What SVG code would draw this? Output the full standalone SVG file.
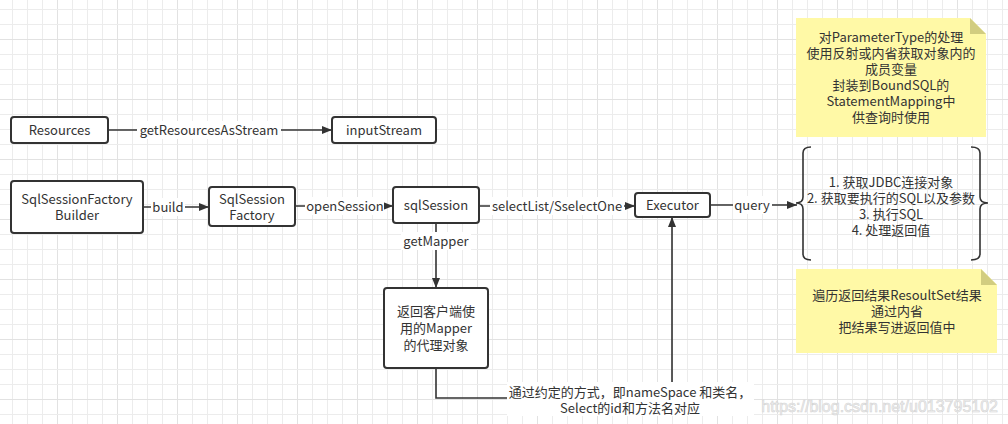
<svg xmlns="http://www.w3.org/2000/svg" width="1008" height="424" viewBox="0 0 1008 424">
<defs>
<pattern id="grid" x="12" y="9" width="60" height="60" patternUnits="userSpaceOnUse">
<rect x="0" y="0" width="1" height="60" fill="#ececec"/>
<rect x="15" y="0" width="1" height="60" fill="#ececec"/>
<rect x="30" y="0" width="1" height="60" fill="#ececec"/>
<rect x="45" y="0" width="1" height="60" fill="#e2e2e2"/>
<rect x="0" y="0" width="60" height="1" fill="#ececec"/>
<rect x="0" y="15" width="60" height="1" fill="#ececec"/>
<rect x="0" y="30" width="60" height="1" fill="#e2e2e2"/>
<rect x="0" y="45" width="60" height="1" fill="#ececec"/>
</pattern>
<marker id="arr" viewBox="0 0 10 10" refX="10" refY="5" markerWidth="10" markerHeight="10" markerUnits="userSpaceOnUse" orient="auto">
<path d="M0,1 L10,5 L0,9 Z" fill="#333"/>
</marker>
<style>
.box{fill:#fff;stroke:#333;stroke-width:2}
.t{font-family:"Noto Sans CJK SC","Noto Sans",sans-serif;font-size:13px;fill:#333;text-anchor:middle}
.line{fill:none;stroke:#333;stroke-width:1.6}
.lbl{fill:#fff}
.note{fill:#fff9a6}
.fold{fill:#d2cd80}
</style>
</defs>
<rect width="1008" height="424" fill="#fff"/>
<rect width="1008" height="424" fill="url(#grid)"/>

<g id="connectors">
<path class="line" d="M108,130 H332" marker-end="url(#arr)"/>
<rect class="lbl" x="137" y="121" width="144" height="18"/>
<text class="t" x="209" y="135">getResourcesAsStream</text>

<path class="line" d="M143,207 H209" marker-end="url(#arr)"/>
<rect class="lbl" x="151" y="198" width="34" height="18"/>
<text class="t" x="168" y="212">build</text>

<path class="line" d="M295,206 H393" marker-end="url(#arr)"/>
<rect class="lbl" x="305" y="197" width="79" height="18"/>
<text class="t" x="345" y="211">openSession</text>

<path class="line" d="M479,206 H635" marker-end="url(#arr)"/>
<rect class="lbl" x="490" y="197" width="134" height="18"/>
<text class="t" x="557" y="211">selectList/SselectOne</text>

<path class="line" d="M710,205 H797" marker-end="url(#arr)"/>
<rect class="lbl" x="733" y="196" width="39" height="18"/>
<text class="t" x="752" y="210">query</text>

<path class="line" d="M436,223 V288" marker-end="url(#arr)"/>
<rect class="lbl" x="401" y="232" width="70" height="18"/>
<text class="t" x="436" y="246">getMapper</text>

<path class="line" d="M436,368 V398 H672 V217" marker-end="url(#arr)"/>
<rect class="lbl" x="507" y="382" width="247" height="34"/>
<text class="t" x="630" y="397">通过约定的方式，即nameSpace 和类名，</text>
<text class="t" x="630" y="413">Select的id和方法名对应</text>
</g>

<g id="resources">
<rect class="box" x="11" y="117" width="97" height="26" rx="3"/>
<text class="t" x="59.5" y="135">Resources</text>
</g>
<g id="inputStream">
<rect class="box" x="332" y="117" width="104" height="26" rx="3"/>
<text class="t" x="384" y="135">inputStream</text>
</g>
<g id="builder">
<rect class="box" x="11" y="181" width="132" height="52" rx="3"/>
<text class="t" x="77" y="204">SqlSessionFactory</text>
<text class="t" x="77" y="220">Builder</text>
</g>
<g id="factory">
<rect class="box" x="209" y="187" width="86" height="39" rx="3"/>
<text class="t" x="252" y="204">SqlSession</text>
<text class="t" x="252" y="220">Factory</text>
</g>
<g id="sqlSession">
<rect class="box" x="393" y="187" width="86" height="36" rx="3"/>
<text class="t" x="436" y="210">sqlSession</text>
</g>
<g id="executor">
<rect class="box" x="635" y="193" width="75" height="24" rx="3"/>
<text class="t" x="672.5" y="210">Executor</text>
</g>
<g id="mapper">
<rect class="box" x="384" y="288" width="104" height="80" rx="3"/>
<text class="t" x="436" y="316">返回客户端使</text>
<text class="t" x="436" y="333">用的Mapper</text>
<text class="t" x="436" y="350">的代理对象</text>
</g>
<g id="steps">
<path class="line" stroke-width="2" d="M811,147 Q803,147 803,153 V197 Q803,203 796,203 Q803,203 803,209 V254 Q803,260 811,260"/>
<path class="line" stroke-width="2" d="M971,147 Q980,147 980,153 V197 Q980,203 988,203 Q980,203 980,209 V254 Q980,260 971,260"/>
<text class="t" x="891" y="187">1. 获取JDBC连接对象</text>
<text class="t" x="891" y="203">2. 获取要执行的SQL以及参数</text>
<text class="t" x="891" y="219">3. 执行SQL</text>
<text class="t" x="891" y="235">4. 处理返回值</text>
</g>
<g id="note1">
<path class="note" d="M796,18 H970 L986,34 V137 H796 Z"/>
<path class="fold" d="M970,18 L986,34 H970 Z"/>
<text class="t" x="891" y="42">对ParameterType的处理</text>
<text class="t" x="891" y="58">使用反射或内省获取对象内的</text>
<text class="t" x="891" y="74">成员变量</text>
<text class="t" x="891" y="90">封装到BoundSQL的</text>
<text class="t" x="891" y="106">StatementMapping中</text>
<text class="t" x="891" y="122">供查询时使用</text>
</g>
<g id="note2">
<path class="note" d="M796,269 H981 L997,285 V353 H796 Z"/>
<path class="fold" d="M981,269 L997,285 H981 Z"/>
<text class="t" x="897" y="300">遍历返回结果ResoultSet结果</text>
<text class="t" x="897" y="316">通过内省</text>
<text class="t" x="897" y="332">把结果写进返回值中</text>
</g>
<text x="998" y="412" font-family="Liberation Sans, sans-serif" font-size="16" fill="#f2f2f2" stroke="#d4d4d4" stroke-width="0.6" text-anchor="end">https://blog.csdn.net/u013795102</text>
</svg>
